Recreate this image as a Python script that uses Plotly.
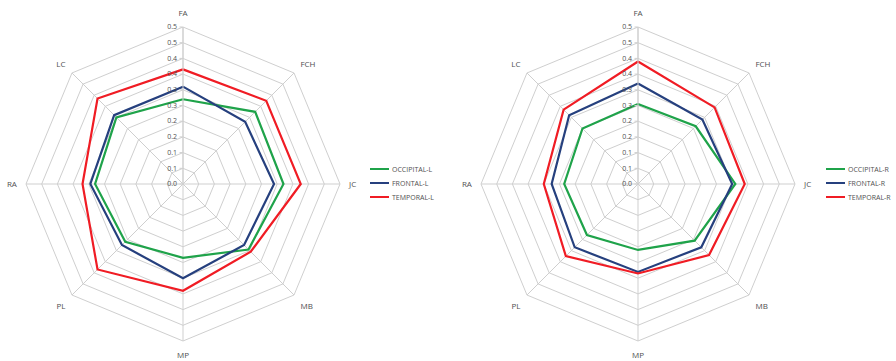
import plotly.graph_objects as go

# Axes of the radar, clockwise from the top
categories = ["FA", "FCH", "JC", "MB", "MP", "PL", "RA", "LC"]

# Left side
occipital_l = [0.27, 0.325, 0.32, 0.295, 0.235, 0.26, 0.28, 0.30]
frontal_l = [0.31, 0.28, 0.29, 0.275, 0.30, 0.275, 0.295, 0.31]
temporal_l = [0.365, 0.375, 0.375, 0.305, 0.34, 0.385, 0.32, 0.385]

# Right side
occipital_r = [0.255, 0.26, 0.31, 0.255, 0.21, 0.23, 0.235, 0.25]
frontal_r = [0.32, 0.29, 0.30, 0.285, 0.28, 0.285, 0.275, 0.31]
temporal_r = [0.39, 0.345, 0.34, 0.32, 0.285, 0.325, 0.30, 0.335]

# Radial ticks every 0.05, labelled with one decimal
radial_ticks = [0.0, 0.05, 0.10, 0.15, 0.20, 0.25, 0.30, 0.35, 0.40, 0.45, 0.50]
radial_labels = ["0.0", "0.1", "0.1", "0.2", "0.2", "0.3", "0.3", "0.4", "0.4", "0.5", "0.5"]

GREEN = "#1fa34a"
BLUE = "#26407e"
RED = "#f01c24"
GRID = "#cfcfcf"
TEXT = "#505050"
FONT = "Open Sans"


def closed(values):
    return list(values) + [values[0]]


fig = go.Figure()

panels = [
    ("polar", 370, [("OCCIPITAL-L", occipital_l, GREEN),
                    ("FRONTAL-L", frontal_l, BLUE),
                    ("TEMPORAL-L", temporal_l, RED)]),
    ("polar2", 826, [("OCCIPITAL-R", occipital_r, GREEN),
                     ("FRONTAL-R", frontal_r, BLUE),
                     ("TEMPORAL-R", temporal_r, RED)]),
]

W, H = 896, 361
legend_top = 169      # px from top of the first legend row
legend_row = 14       # px between legend rows
legend_line = 19      # px length of the legend swatch

for subplot, legend_x, traces in panels:
    for i, (name, vals, color) in enumerate(traces):
        fig.add_trace(go.Scatterpolar(
            r=closed(vals),
            theta=closed(categories),
            mode="lines",
            name=name,
            line=dict(color=color, width=2.2),
            subplot=subplot,
            showlegend=False,
        ))
        # compact legend entry: swatch line + label
        y = 1 - (legend_top + i * legend_row) / H
        fig.add_shape(
            type="line", xref="paper", yref="paper",
            x0=legend_x / W, x1=(legend_x + legend_line) / W, y0=y, y1=y,
            line=dict(color=color, width=2),
        )
        fig.add_annotation(
            xref="paper", yref="paper",
            x=(legend_x + legend_line + 1) / W, y=y,
            xanchor="left", yanchor="middle", showarrow=False,
            text=name, font=dict(size=7, color=TEXT, family=FONT),
        )


def polar_layout(x0, x1):
    return dict(
        domain=dict(x=[x0 / W, x1 / W], y=[20 / H, 334 / H]),
        bgcolor="white",
        gridshape="linear",
        radialaxis=dict(
            range=[0, 0.5],
            tickvals=radial_ticks,
            ticktext=radial_labels,
            angle=90,
            tickangle=90,
            side="counterclockwise",
            showline=True,
            linecolor=GRID,
            linewidth=1,
            gridcolor=GRID,
            gridwidth=1,
            ticks="outside",
            ticklen=3,
            tickcolor=GRID,
            tickfont=dict(size=7, color=TEXT, family=FONT),
        ),
        angularaxis=dict(
            direction="clockwise",
            rotation=90,
            showline=True,
            linecolor=GRID,
            gridcolor=GRID,
            ticks="outside",
            ticklen=7,
            tickcolor="rgba(0,0,0,0)",
            tickfont=dict(size=8, color=TEXT, family=FONT),
        ),
    )


fig.update_layout(
    width=W,
    height=H,
    margin=dict(l=0, r=0, t=0, b=0),
    paper_bgcolor="white",
    plot_bgcolor="white",
    showlegend=False,
    polar=polar_layout(26, 340),
    polar2=polar_layout(481, 795),
)

fig.write_html("out.html")
